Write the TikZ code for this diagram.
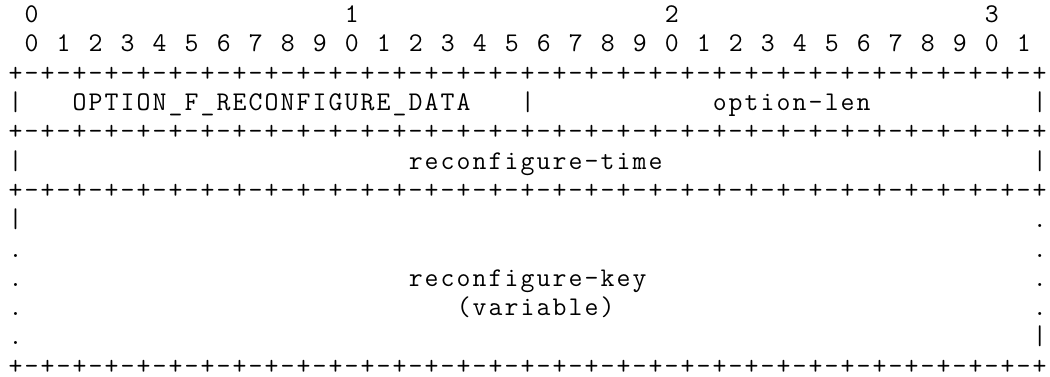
\documentclass[tikz,border=0pt]{standalone}
\tikzset{
  cell/.style={anchor=base west, inner sep=0pt, outer sep=0pt,
    font=\ttfamily\fontsize{27}{29.5}\selectfont},
}
\makeatletter
% set every character of #1 in a fixed 16pt cell
\newcommand\spread[1]{\@tfor\ch:=#1\do{\makebox[16pt][c]{\ch}}}
\makeatother
% place text #4 as node #1 at column #2, row #3 of the character grid
\newcommand\gridtext[4]{\node[cell] (#1) at ({7.7+16*#2},{-22.6-29.3*#3}) {\spread{#4}};}
\begin{document}
\begin{tikzpicture}[x=1pt,y=1pt]
\useasboundingbox (0,0) rectangle (1050,-376);
% bit ruler
\gridtext{t0}{1}{0}{0}
\gridtext{t1}{21}{0}{1}
\gridtext{t2}{41}{0}{2}
\gridtext{t3}{61}{0}{3}
\foreach \i in {0,...,31}{
  \pgfmathtruncatemacro\d{mod(\i,10)}
  \pgfmathtruncatemacro\c{2*\i+1}
  \gridtext{b\i}{\c}{1}{\d}
}
% field separators
\gridtext{sep1}{0}{2}{+-+-+-+-+-+-+-+-+-+-+-+-+-+-+-+-+-+-+-+-+-+-+-+-+-+-+-+-+-+-+-+-+}
\gridtext{sep2}{0}{4}{+-+-+-+-+-+-+-+-+-+-+-+-+-+-+-+-+-+-+-+-+-+-+-+-+-+-+-+-+-+-+-+-+}
\gridtext{sep3}{0}{6}{+-+-+-+-+-+-+-+-+-+-+-+-+-+-+-+-+-+-+-+-+-+-+-+-+-+-+-+-+-+-+-+-+}
\gridtext{sep4}{0}{12}{+-+-+-+-+-+-+-+-+-+-+-+-+-+-+-+-+-+-+-+-+-+-+-+-+-+-+-+-+-+-+-+-+}
% first word: option code and length
\gridtext{r3a}{0}{3}{|}
\gridtext{code}{4}{3}{OPTION\_F\_RECONFIGURE\_DATA}
\gridtext{r3b}{32}{3}{|}
\gridtext{len}{44}{3}{option-len}
\gridtext{r3c}{64}{3}{|}
% second word: reconfigure time
\gridtext{r5a}{0}{5}{|}
\gridtext{rtime}{25}{5}{reconfigure-time}
\gridtext{r5b}{64}{5}{|}
% variable-length key
\gridtext{r7a}{0}{7}{|}
\gridtext{r7b}{64}{7}{.}
\gridtext{r8a}{0}{8}{.}
\gridtext{r8b}{64}{8}{.}
\gridtext{r9a}{0}{9}{.}
\gridtext{rkey}{25}{9}{reconfigure-key}
\gridtext{r9b}{64}{9}{.}
\gridtext{r10a}{0}{10}{.}
\gridtext{var}{28}{10}{(variable)}
\gridtext{r10b}{64}{10}{.}
\gridtext{r11a}{0}{11}{.}
\gridtext{r11b}{64}{11}{|}
\end{tikzpicture}
\end{document}
